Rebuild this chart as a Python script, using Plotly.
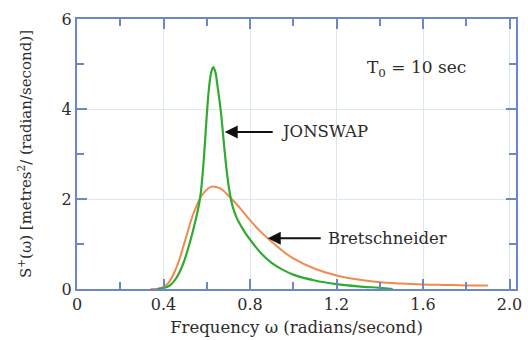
import plotly.graph_objects as go

# Bretschneider spectrum (orange)
omega_b = [0.34, 0.38, 0.42, 0.46, 0.50, 0.54, 0.58, 0.62, 0.66, 0.70, 0.75, 0.80,
           0.85, 0.90, 0.95, 1.00, 1.10, 1.20, 1.30, 1.40, 1.50, 1.60, 1.70, 1.80, 1.90]
s_bret = [0.0, 0.01, 0.12, 0.48, 1.08, 1.70, 2.10, 2.27, 2.24, 2.08, 1.82, 1.53,
          1.27, 1.05, 0.85, 0.68, 0.45, 0.30, 0.21, 0.15, 0.12, 0.10, 0.09, 0.08, 0.08]

# JONSWAP spectrum (green)
omega_j = [0.37, 0.40, 0.43, 0.46, 0.49, 0.52, 0.55, 0.57, 0.585, 0.60, 0.61, 0.62,
           0.63, 0.64, 0.65, 0.665, 0.68, 0.69, 0.70, 0.71, 0.72, 0.735, 0.75, 0.775,
           0.80, 0.85, 0.90, 0.95, 1.00, 1.10, 1.20, 1.30, 1.40, 1.46]
s_jon = [0.0, 0.02, 0.08, 0.25, 0.55, 1.0, 1.56, 2.05, 2.8, 3.85, 4.45, 4.8,
         4.93, 4.82, 4.5, 3.95, 3.2, 2.72, 2.33, 2.04, 1.83, 1.62, 1.47, 1.27,
         1.10, 0.80, 0.58, 0.43, 0.32, 0.19, 0.11, 0.06, 0.025, 0.0]

x_tickvals = [0, 0.4, 0.8, 1.2, 1.6, 2.0]
x_ticktext = ["0", "0.4", "0.8", "1.2", "1.6", "2.0"]
y_tickvals = [0, 2, 4, 6]
y_ticktext = ["0", "2", "4", "6"]

GREEN = "#2fac2f"
ORANGE = "#ef8a50"
AXIS = "#6b87c7"
GRID = "#dce7f6"
FONT = "DejaVu Serif"
TXT = "#2b2b2b"

fig = go.Figure()
fig.add_trace(go.Scatter(x=omega_b, y=s_bret, mode="lines",
                         line=dict(color=ORANGE, width=2, shape="spline", smoothing=1.0),
                         showlegend=False, hoverinfo="skip"))
fig.add_trace(go.Scatter(x=omega_j, y=s_jon, mode="lines",
                         line=dict(color=GREEN, width=2.2, shape="spline", smoothing=1.0),
                         showlegend=False, hoverinfo="skip"))

axis_common = dict(
    showline=True, linecolor=AXIS, linewidth=2, mirror="ticks",
    ticks="inside", tickcolor=AXIS, tickwidth=2, ticklen=10,
    showgrid=True, gridcolor=GRID, gridwidth=1, zeroline=False,
    tickfont=dict(family=FONT, size=16, color=TXT), automargin=False,
)

fig.update_xaxes(range=[0, 2.03], tickmode="array", tickvals=x_tickvals, ticktext=x_ticktext,
                 minor=dict(dtick=0.2, tick0=0, ticks="inside", ticklen=7, tickcolor=AXIS,
                            tickwidth=2, showgrid=False),
                 title=dict(text="Frequency ω (radians/second)",
                            font=dict(family=FONT, size=16.5, color=TXT), standoff=8),
                 **axis_common)
fig.update_yaxes(range=[0, 6], tickmode="array", tickvals=y_tickvals, ticktext=y_ticktext,
                 minor=dict(dtick=1, tick0=0, ticks="inside", ticklen=7, tickcolor=AXIS,
                            tickwidth=2, showgrid=False),
                 title=dict(text="S<sup>+</sup>(ω) [metres<sup>2</sup>/ (radian/second)]",
                            font=dict(family=FONT, size=15, color=TXT), standoff=26),
                 **axis_common)

fig.add_annotation(x=1.572, y=4.89, xref="x", yref="y", showarrow=False,
                   text="T<sub>0</sub> = 10 sec",
                   font=dict(family=FONT, size=17, color=TXT))
fig.add_annotation(x=0.683, y=3.49, xref="x", yref="y", ax=100, ay=0,
                   text="JONSWAP", showarrow=True, arrowhead=2, arrowsize=1.3,
                   arrowwidth=2, arrowcolor="#111111", borderpad=8,
                   font=dict(family=FONT, size=16.5, color=TXT))
fig.add_annotation(x=0.882, y=1.13, xref="x", yref="y", ax=120, ay=0,
                   text="Bretschneider", showarrow=True, arrowhead=2, arrowsize=1.3,
                   arrowwidth=2, arrowcolor="#111111", borderpad=7,
                   font=dict(family=FONT, size=16.5, color=TXT))

fig.update_layout(width=528, height=340,
                  margin=dict(l=77, r=12, t=19, b=51, autoexpand=False),
                  paper_bgcolor="white", plot_bgcolor="white")

fig.write_html("out.html")
